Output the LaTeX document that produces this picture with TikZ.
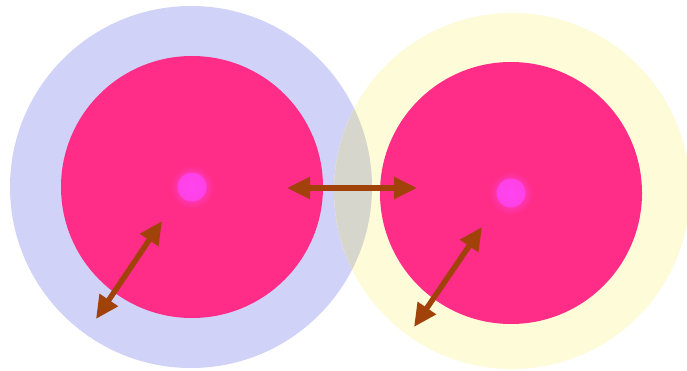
\documentclass[tikz,border=0pt]{standalone}
\usetikzlibrary{arrows.meta}
\definecolor{lav}{RGB}{208,210,248}
\definecolor{cream}{RGB}{253,251,216}
\definecolor{lens}{RGB}{214,214,204}
\definecolor{rose}{RGB}{255,45,135}
\definecolor{dotc}{RGB}{255,68,240}
\definecolor{arr}{RGB}{160,66,10}
\tikzset{
  disc/.style={circle,inner sep=0pt,draw=none},
  dbl/.style={arr,line width=5.5pt,{Triangle[length=23pt,width=21pt]}-{Triangle[length=23pt,width=21pt]}}
}
\begin{document}
\begin{tikzpicture}[x=1pt,y=-1pt]
\useasboundingbox (0,0) rectangle (687,371);
\fill[white] (0,0) rectangle (687,371);
\node[disc,fill=lav,minimum size=362pt] (outL) at (191,187) {};
\node[disc,fill=cream,minimum size=356pt] (outR) at (512,191) {};
\begin{scope}
  \clip (191,187) circle (181);
  \fill[lens] (512,191) circle (178);
\end{scope}
\node[disc,fill=rose,minimum size=262pt] (pinkL) at (192,187) {};
\node[disc,fill=rose,minimum size=262pt] (pinkR) at (511,193) {};
\node[disc,inner color=dotc,outer color=rose,minimum size=44pt] (glowL) at (192,187) {};
\node[disc,inner color=dotc,outer color=rose,minimum size=44pt] (glowR) at (511,193) {};
\node[disc,fill=dotc,minimum size=29pt,opacity=0.85] (dotL) at (192,187) {};
\node[disc,fill=dotc,minimum size=29pt,opacity=0.85] (dotR) at (511,193) {};
\coordinate (hA) at (287,188);
\coordinate (hB) at (417,188);
\coordinate (lA) at (162,221);
\coordinate (lB) at (96,319);
\coordinate (rA) at (482,227);
\coordinate (rB) at (414,327);
\draw[dbl] (hA) -- (hB);
\draw[dbl] (lA) -- (lB);
\draw[dbl] (rA) -- (rB);
\end{tikzpicture}
\end{document}
